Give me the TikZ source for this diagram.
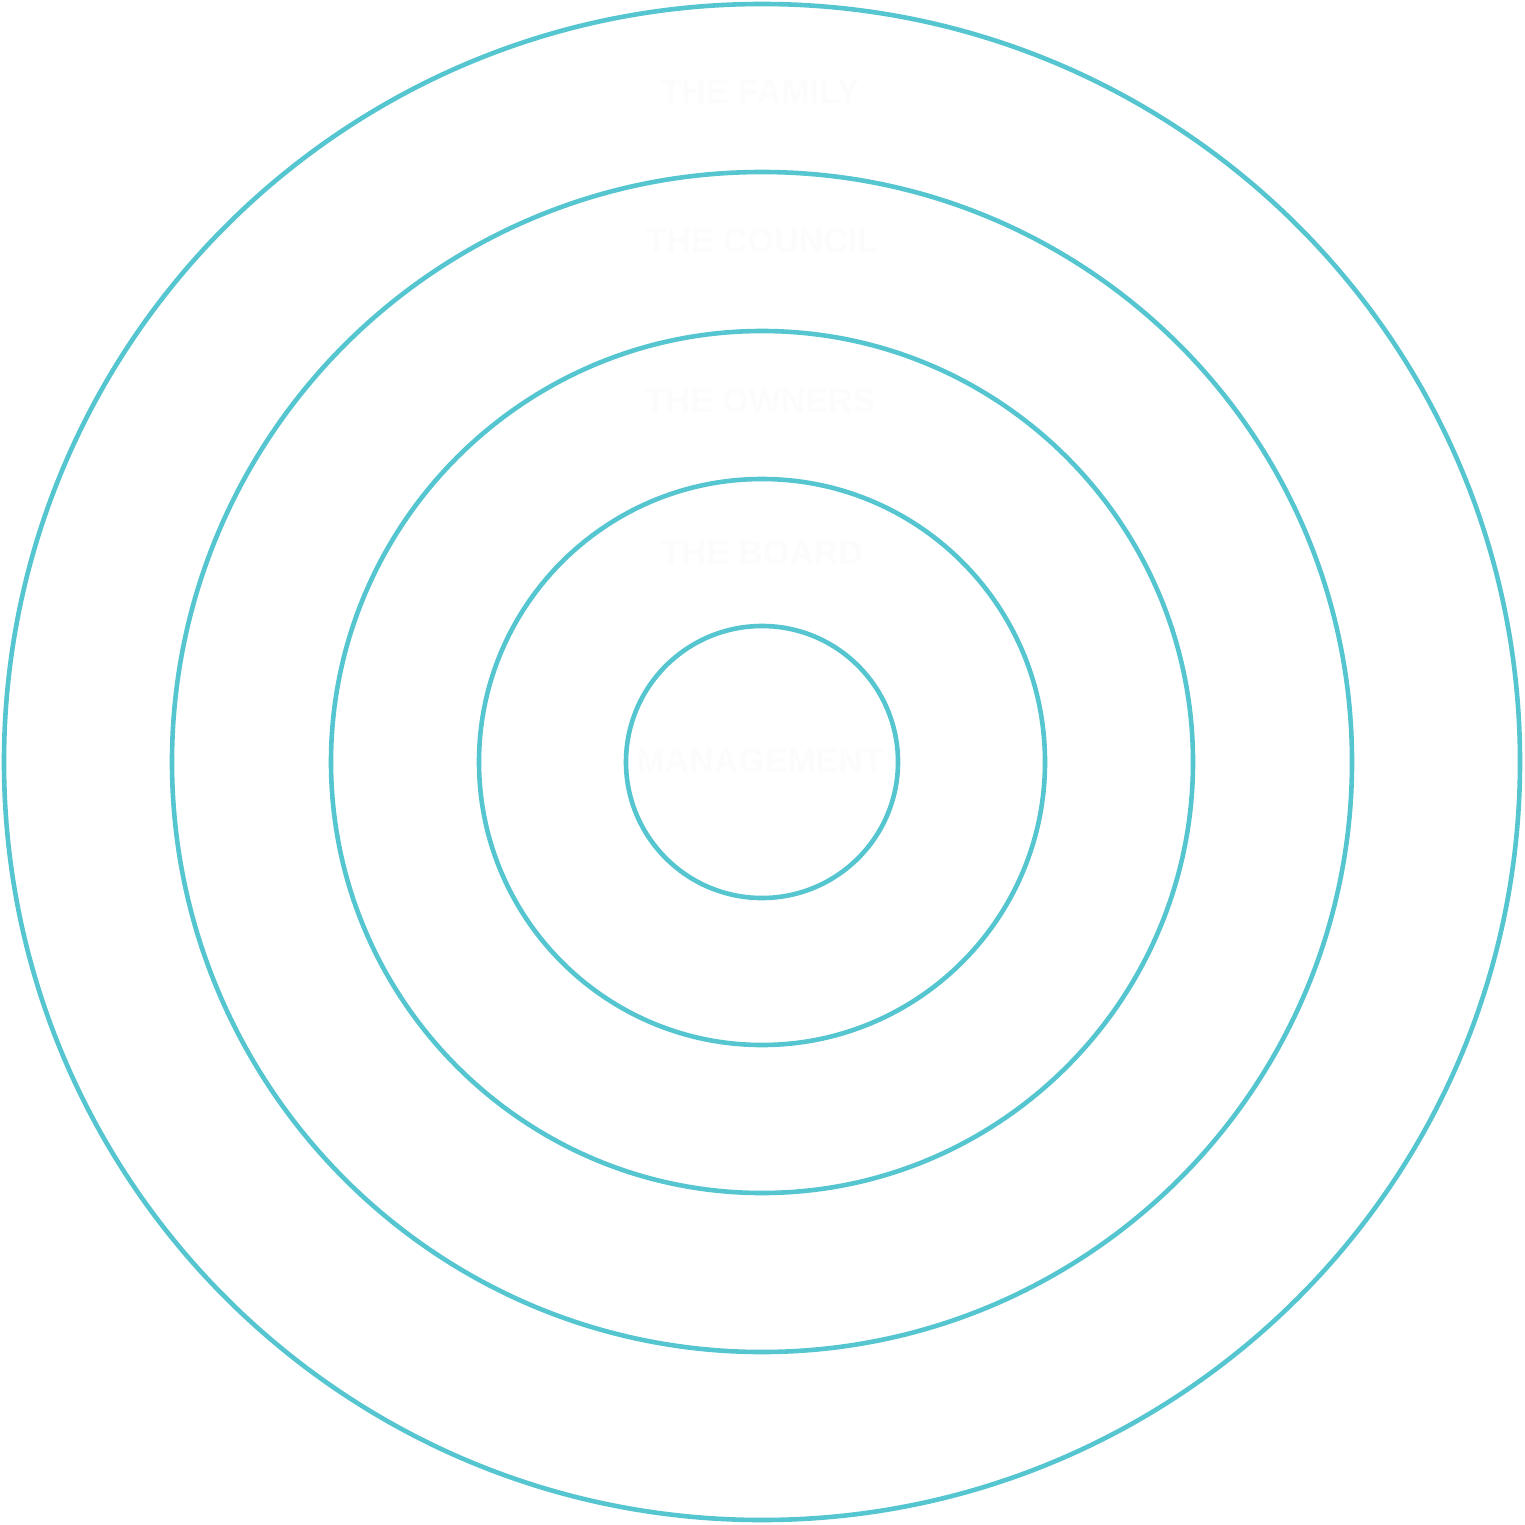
\documentclass[tikz,border=0pt]{standalone}
\usepackage{fontspec}
\setmainfont{Liberation Sans}
\begin{document}
\begin{tikzpicture}[x=0.5pt,y=-0.5pt]
		\definecolor{ringblue}{HTML}{55C5D0}
		\definecolor{ghost}{HTML}{FCFCFC}
		\tikzset{ring/.style={line width=2.3pt,color=ringblue},
			label/.style={text=ghost,font=\bfseries\fontsize{17pt}{20pt}\selectfont}}
		\useasboundingbox (0,0) rectangle (1525,1525);
		\foreach \r in {758,590,431,283,136}
			\draw[ring] (762,762) circle (\r);
		\node[label] (family) at (760,92) {THE FAMILY};
		\node[label] (council) at (762,241) {THE COUNCIL};
		\node[label] (owners) at (760,401) {THE OWNERS};
		\node[label] (board) at (762,553) {THE BOARD};
		\node[label] (management) at (760,761) {MANAGEMENT};
	\end{tikzpicture}
\end{document}
